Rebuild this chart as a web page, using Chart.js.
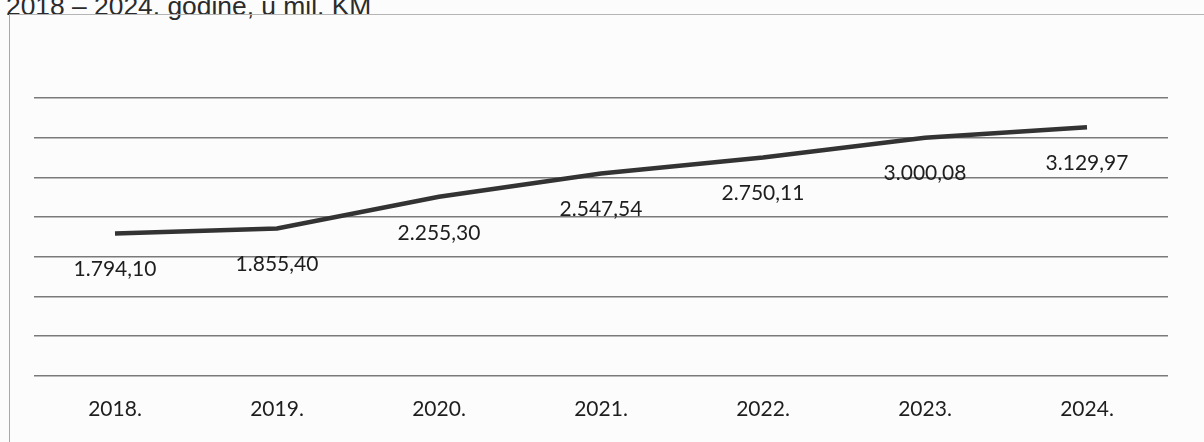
<!DOCTYPE html>
<html>
<head>
<meta charset="utf-8">
<script src="https://cdn.jsdelivr.net/npm/chart.js@4.4.1/dist/chart.umd.min.js"></script>
<style>
  html, body { margin: 0; padding: 0; background: #fcfcfc; overflow: hidden; }
  #wrap { position: relative; width: 1204px; height: 442px; }
  #naslov {
    position: absolute; left: 6px; top: -7px;
    font-family: "Liberation Sans", Arial, sans-serif; font-size: 26.4px; line-height: 26px;
    color: #2b2b2b; white-space: nowrap;
  }
  #okvir {
    position: absolute; left: 9px; top: 14px; width: 1210px; height: 440px;
    border-left: 1px solid #a8a8a8; border-top: 1px solid #b5b5b5;
  }
  #graf { position: absolute; left: 0; top: 0; }
</style>
</head>
<body>
<div id="wrap">
  <div id="naslov">2018 – 2024. godine, u mil. KM</div>
  <div id="okvir"></div>
  <canvas id="graf" width="1204" height="442"></canvas>
</div>
<script>
// podaci
var godine = ['2018.', '2019.', '2020.', '2021.', '2022.', '2023.', '2024.'];
var iznosi = [1794.10, 1855.40, 2255.30, 2547.54, 2750.11, 3000.08, 3129.97];
var yMin = 0, yMax = 3500, yKorak = 500;

// 1794.1 -> "1.794,10"
function formatBroj(v) {
  var dijelovi = v.toFixed(2).split('.');
  var cijeli = dijelovi[0].replace(/\B(?=(\d{3})+(?!\d))/g, '.');
  return cijeli + ',' + dijelovi[1];
}

// natpisi ispod tacaka
var natpisi = {
  id: 'natpisi',
  afterDatasetsDraw: function(chart) {
    var ctx = chart.ctx;
    var meta = chart.getDatasetMeta(0);
    ctx.save();
    ctx.font = '21px Lato, "Open Sans", sans-serif';
    ctx.fillStyle = '#1e1e1e';
    ctx.textAlign = 'center';
    ctx.textBaseline = 'middle';
    meta.data.forEach(function(p, i) {
      ctx.fillText(formatBroj(iznosi[i]), p.x, p.y + 36);
    });
    ctx.restore();
  }
};

var ctx = document.getElementById('graf');
var grafikon = new Chart(ctx, {
  type: 'line',
  data: {
    labels: godine,
    datasets: [{
      data: iznosi,
      borderColor: '#333333',
      borderWidth: 4.5,
      pointRadius: 0,
      tension: 0,
      fill: false
    }]
  },
  options: {
    responsive: false,
    animation: false,
    layout: { padding: { top: 98, left: 34, right: 36, bottom: 7 } },
    plugins: { legend: { display: false }, tooltip: { enabled: false } },
    scales: {
      x: {
        offset: true,
        grid: { display: false },
        border: { display: false },
        ticks: {
          color: '#1e1e1e',
          font: { family: 'Lato, "Open Sans", sans-serif', size: 21 },
          padding: 13,
          maxRotation: 0
        }
      },
      y: {
        min: yMin,
        max: yMax,
        ticks: { display: false, stepSize: yKorak },
        border: { display: false },
        grid: { color: '#7a7a7a', lineWidth: 1.5, drawTicks: false }
      }
    }
  },
  plugins: [natpisi]
});
</script>
</body>
</html>
